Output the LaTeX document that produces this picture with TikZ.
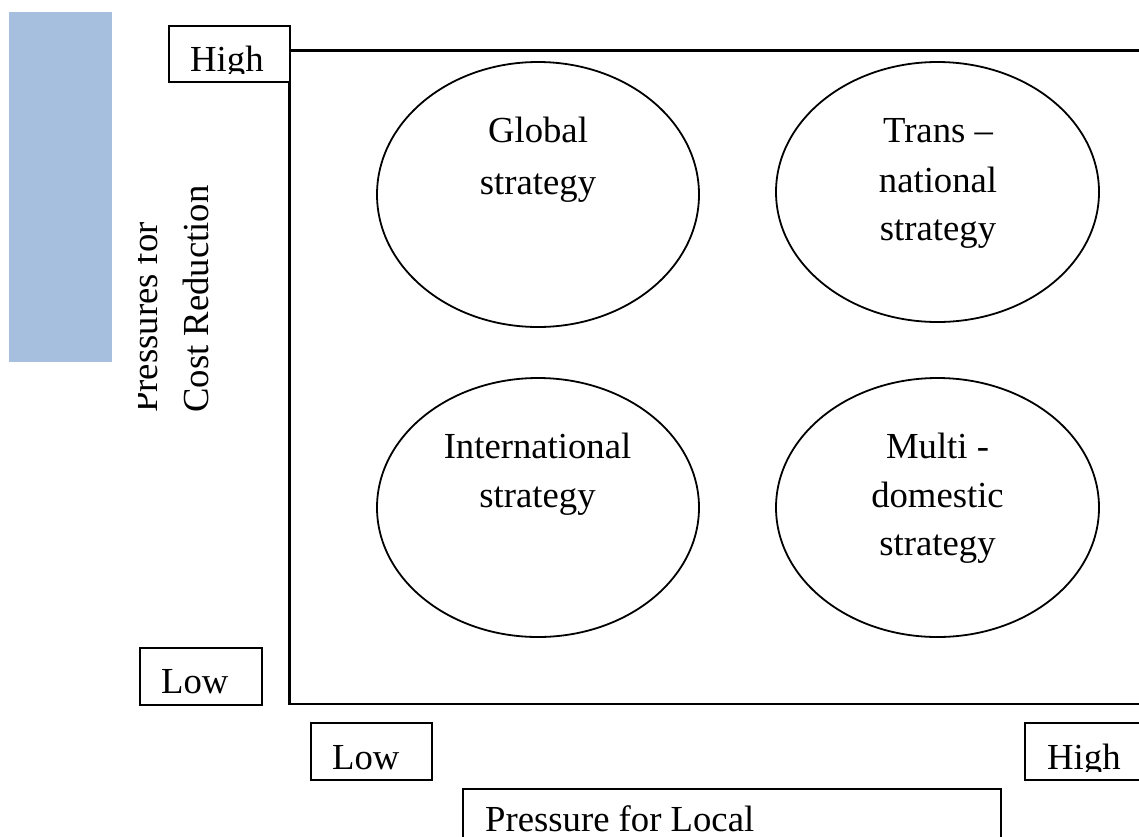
\documentclass[tikz,border=0pt]{standalone}
\usepackage{fontspec}
\setmainfont{Liberation Serif}
\usetikzlibrary{shapes.geometric}
\definecolor{bluebar}{RGB}{167,191,222}
\begin{document}
\begin{tikzpicture}[x=1pt,y=-1pt,
  lbl/.style={font=\fontsize{36.7pt}{50pt}\selectfont, inner sep=0pt, anchor=base},
  lbll/.style={lbl, anchor=base west},
  tbox/.style={draw, line width=2pt, fill=white, rectangle, inner sep=0pt},
  oval/.style={draw, ellipse, line width=1.8pt, inner sep=0pt},
  axis/.style={line width=2.2pt}]
\useasboundingbox (0,0) rectangle (1139,836);
\clip (0,0) rectangle (1139,836);
% blue bar
\node[fill=bluebar, rectangle, inner sep=0pt, minimum width=103pt, minimum height=350pt] (bar) at (60.5,187) {};
% axes frame
\coordinate (tr) at (1160,50.5);
\coordinate (tl) at (289.5,50.5);
\coordinate (bl) at (289.5,704);
\coordinate (br) at (1160,704);
\draw[axis] (tr) -- (tl) -- (bl) -- (br);
% boxes
\node[tbox, minimum width=121pt, minimum height=56pt] (hightop) at (229.5,54) {};
\node[tbox, minimum width=122pt, minimum height=57pt] (lowleft) at (201,676.5) {};
\node[tbox, minimum width=121pt, minimum height=57pt] (lowbot) at (371.5,751.5) {};
\node[tbox, minimum width=121pt, minimum height=57pt] (highbot) at (1085.5,751.5) {};
\node[tbox, minimum width=538pt, minimum height=63pt] (pbox) at (731.5,820) {};
% box texts
\begin{scope}
  \clip (169,26) rectangle (290,73);
  \node[lbll] (thigh) at (190,71) {High};
\end{scope}
\begin{scope}
  \clip (1025,723) rectangle (1139,771);
  \node[lbll] (bhigh) at (1047,769) {High};
\end{scope}
\node[lbll] (llow) at (161,693) {Low};
\node[lbll] (blow) at (332,769) {Low};
\node[lbll] (ptext) at (485,831) {Pressure for Local};
% vertical axis title
\begin{scope}
  \clip (138,150) rectangle (240,430);
  \node[lbll, rotate=90] (vp1) at (157,413) {Pressures for};
  \node[lbll, rotate=90] (vp2) at (208,413) {Cost Reduction};
\end{scope}
% ellipses
\node[oval, minimum width=322pt, minimum height=265pt] (glob) at (538,194.5) {};
\node[oval, minimum width=323pt, minimum height=260pt] (trans) at (937.5,192) {};
\node[oval, minimum width=322pt, minimum height=259pt] (intl) at (538,507.5) {};
\node[oval, minimum width=323pt, minimum height=259pt] (multi) at (937.5,507.5) {};
% ellipse texts
\node[lbl] (g1) at (538,142) {Global};
\node[lbl] (g2) at (538,194) {strategy};
\node[lbl] (t1) at (938,142) {Trans –};
\node[lbl] (t2) at (938,192) {national};
\node[lbl] (t3) at (938,240) {strategy};
\node[lbl] (i1) at (537.5,458) {International};
\node[lbl] (i2) at (537.5,507) {strategy};
\node[lbl] (m1) at (937.5,458) {Multi -};
\node[lbl] (m2) at (937.5,507) {domestic};
\node[lbl] (m3) at (937.5,555) {strategy};
\end{tikzpicture}
\end{document}
